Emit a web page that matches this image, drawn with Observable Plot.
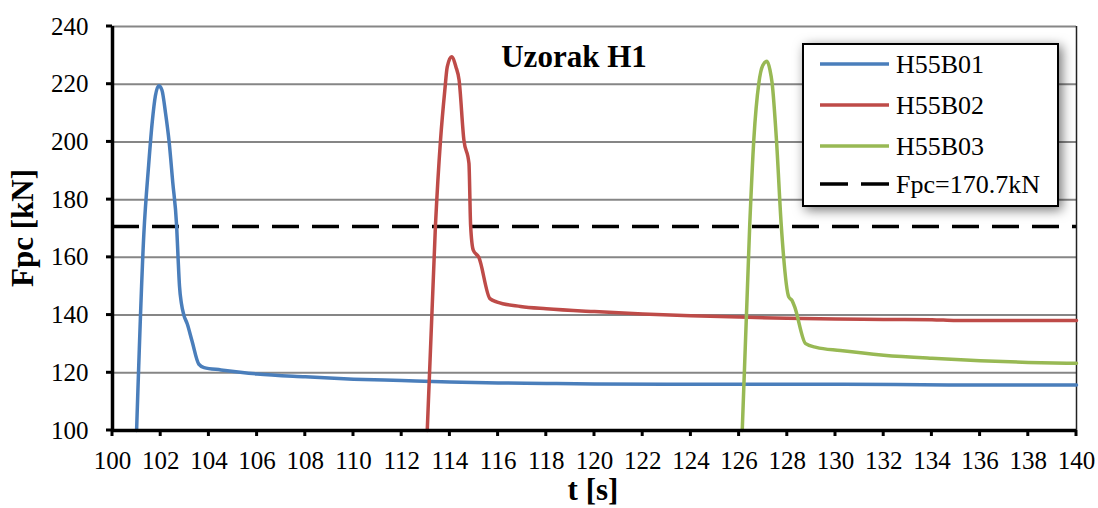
<!DOCTYPE html>
<html>
<head>
<meta charset="utf-8">
<script src="https://cdn.jsdelivr.net/npm/d3@7"></script>
<script src="https://cdn.jsdelivr.net/npm/@observablehq/plot@0.6"></script>
<style>
  html, body { margin: 0; padding: 0; background: white; }
  #chart { width: 1098px; height: 508px; }
</style>
</head>
<body>
<div id="chart"></div>
<script>
// ---- Data ----
const seriesNames = ["H55B01", "H55B02", "H55B03"];
const seriesColors = ["#4A7EBB", "#BE4B48", "#98B954"];

const tB01 = [101.0, 101.3, 101.5, 101.65, 101.78, 101.92, 102.05, 102.2, 102.35, 102.5, 102.66, 102.72, 102.78, 102.86, 102.96, 103.1, 103.3, 103.58, 103.8, 104.5, 105.3, 106, 108, 110, 112, 114, 116, 118, 120, 125, 130, 135, 140];
const fB01 = [100, 168, 192, 207, 216, 219.5, 218, 210, 200, 186, 171, 160, 150, 144, 140, 137, 131, 123, 121.8, 121, 120.2, 119.6, 118.6, 117.8, 117.3, 116.8, 116.5, 116.3, 116.1, 116, 116, 115.8, 115.8];

const tB02 = [113.06, 113.4, 113.61, 113.79, 113.89, 114.07, 114.25, 114.38, 114.58, 114.79, 114.86, 114.97, 115.2, 115.66, 115.96, 116.93, 118, 120, 122, 124, 126, 128, 130, 132, 134, 135, 137, 140];
const fB02 = [100, 171, 200.5, 218, 226, 229.5, 226, 221.5, 200.7, 192.6, 171, 162.5, 160, 145.7, 144.5, 143, 142.2, 141.2, 140.4, 139.8, 139.3, 138.9, 138.6, 138.5, 138.4, 138.1, 138.1, 138.1];

const tB03 = [126.13, 126.44, 126.61, 126.82, 126.98, 127.16, 127.28, 127.37, 127.55, 127.75, 128.06, 128.2, 128.3, 128.76, 129.2, 130.2, 132, 134, 136, 138, 140];
const fB03 = [100, 171, 200.7, 220.4, 226.5, 228, 225, 220.4, 200.7, 171, 146.3, 145, 143, 130.1, 128.8, 127.7, 126.1, 125, 124.2, 123.6, 123.3];

const limitValue = 170.7;
const limitLabel = "Fpc=170.7kN";

const xTicks = [100, 102, 104, 106, 108, 110, 112, 114, 116, 118, 120, 122, 124, 126, 128, 130, 132, 134, 136, 138, 140];
const yTicks = [100, 120, 140, 160, 180, 200, 220, 240];
const gridTicks = [120, 140, 160, 180, 200, 220, 240];

const titleText = "Uzorak H1";
const xLabel = "t [s]";
const yLabel = "Fpc [kN]";

// ---- Build table ----
const times = [tB01, tB02, tB03];
const values = [fB01, fB02, fB03];
const rows = [];
seriesNames.forEach((name, i) => {
  times[i].forEach((t, j) => rows.push({series: name, t, f: values[i][j]}));
});

const font = "Liberation Serif";

const chart = Plot.plot({
  width: 1098,
  height: 508,
  marginLeft: 112,
  marginRight: 22,
  marginTop: 26,
  marginBottom: 78,
  style: {fontFamily: font, fontSize: "25px", background: "white", color: "black", overflow: "visible"},
  x: {domain: [100, 140], axis: null},
  y: {domain: [100, 240], axis: null},
  color: {domain: seriesNames, range: seriesColors},
  marks: [
    Plot.gridY(gridTicks, {stroke: "#868686", strokeOpacity: 1, strokeWidth: 2}),
    Plot.ruleX([140], {stroke: "#222", strokeWidth: 1.5}),
    Plot.ruleY([limitValue], {stroke: "black", strokeWidth: 3.5, strokeDasharray: "27,13"}),
    Plot.line(rows, {x: "t", y: "f", z: "series", stroke: "series", strokeWidth: 3.5, curve: "monotone-x"}),
    Plot.text(xTicks, {x: d => d, frameAnchor: "bottom", lineAnchor: "middle", dy: 30, text: d => String(d), fontFamily: font, fontSize: 25, fill: "black"}),
    Plot.text(yTicks, {y: d => d, frameAnchor: "left", lineAnchor: "middle", dx: -24, textAnchor: "end", text: d => String(d), fontFamily: font, fontSize: 25, fill: "black"}),
    Plot.ruleX([100], {stroke: "black", strokeWidth: 3.5}),
    Plot.ruleY([100], {stroke: "black", strokeWidth: 3.5})
  ]
});

document.getElementById("chart").appendChild(chart);

// ---- Tick marks (short lines) positioned with the plot's scales ----
const svg = d3.select(chart);
const xs = chart.scale("x"), ys = chart.scale("y");
const tickG = svg.append("g").attr("stroke", "black").attr("stroke-width", 3);
xTicks.forEach(v => {
  const px = xs.apply(v), py = ys.apply(100);
  tickG.append("line").attr("x1", px).attr("x2", px).attr("y1", py).attr("y2", py + 6);
});
yTicks.forEach(v => {
  const px = xs.apply(100), py = ys.apply(v);
  tickG.append("line").attr("x1", px - 6).attr("x2", px).attr("y1", py).attr("y2", py);
});

svg.append("text")
  .attr("x", 574).attr("y", 67)
  .attr("text-anchor", "middle")
  .style("font-family", font).style("font-weight", "bold").style("font-size", "31px")
  .attr("fill", "black")
  .text(titleText);

svg.append("text")
  .attr("x", 593).attr("y", 500)
  .attr("text-anchor", "middle")
  .style("font-family", font).style("font-weight", "bold").style("font-size", "31px")
  .attr("fill", "black")
  .text(xLabel);

svg.append("text")
  .attr("transform", "translate(33,228) rotate(-90)")
  .attr("text-anchor", "middle")
  .style("font-family", font).style("font-weight", "bold").style("font-size", "31px")
  .attr("fill", "black")
  .text(yLabel);

// Legend
const defs = svg.append("defs");
const filter = defs.append("filter").attr("id", "legshadow")
  .attr("x", "-20%").attr("y", "-20%").attr("width", "140%").attr("height", "140%");
filter.append("feDropShadow")
  .attr("dx", 3).attr("dy", 3).attr("stdDeviation", 6)
  .attr("flood-color", "#000").attr("flood-opacity", 0.55);

const leg = svg.append("g");
leg.append("rect")
  .attr("x", 803).attr("y", 44).attr("width", 255).attr("height", 162)
  .attr("fill", "white").attr("stroke", "black").attr("stroke-width", 2)
  .attr("filter", "url(#legshadow)");

const legItems = seriesNames.map((n, i) => ({label: n, color: seriesColors[i], dash: null}))
  .concat([{label: limitLabel, color: "black", dash: "28,13"}]);
const rowY = [64, 105, 146, 184];
legItems.forEach((it, i) => {
  const g = leg.append("g");
  g.append("line")
    .attr("x1", 820).attr("x2", 889).attr("y1", rowY[i]).attr("y2", rowY[i])
    .attr("stroke", it.color).attr("stroke-width", 3.5)
    .attr("stroke-dasharray", it.dash);
  g.append("text")
    .attr("x", 896).attr("y", rowY[i] + 9)
    .attr("text-anchor", "start")
    .style("font-family", font).style("font-size", "26px")
    .attr("fill", "black")
    .text(it.label);
});
</script>
</body>
</html>
